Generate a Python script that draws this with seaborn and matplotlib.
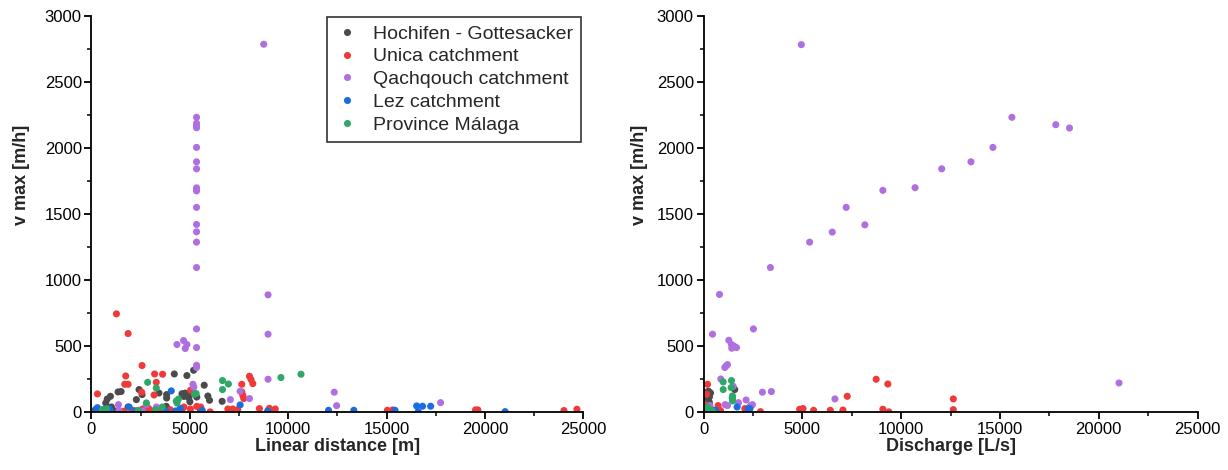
import matplotlib
matplotlib.use("Agg")
import matplotlib.pyplot as plt
import seaborn as sns
import pandas as pd
from matplotlib.ticker import MultipleLocator

groups = ["Hochifen - Gottesacker", "Unica catchment", "Qachqouch catchment",
          "Lez catchment", "Province Málaga"]
colors = ["#4b4b4b", "#f03a3a", "#b06fe0", "#1a6de0", "#2ea868"]

# ---- Left panel: linear distance [m] vs v max [m/h]
hoch_dist = [963, 1352, 1505, 2418, 2280, 2570, 4210, 4850, 5190, 5730, 3430, 3820, 3820,
             4600, 4750, 4900, 4700, 4950, 5250, 5350, 5000, 5915, 6000, 6640, 725, 795,
             1015, 1860, 3800, 200, 1200, 2900, 4400, 5500, 800]
hoch_vmax_l = [121, 154, 157, 172, 96, 134, 290, 278, 318, 205, 146, 134, 108,
               140, 145, 143, 120, 110, 140, 115, 80, 123, 91, 83, 70, 40,
               40, 40, 45, 20, 10, 15, 10, 30, 100]
unica_dist = [1268, 1860, 2570, 1740, 1690, 1860, 3210, 3615, 3295, 304, 2550, 3180, 5035,
              7640, 8030, 8110, 8200, 7640, 7690, 7740, 8535, 9040, 9340, 6930, 7180, 7435,
              6030, 5030, 5350, 5550, 1640, 2100, 2600, 2900, 3500, 4000, 4600, 4700,
              15040, 15310, 19520, 19640, 24015, 24675, 8980, 3100, 800, 4300]
unica_vmax_l = [745, 596, 354, 275, 212, 212, 290, 288, 227, 139, 152, 131, 167,
                212, 273, 248, 217, 154, 129, 104, 28, 30, 25, 25, 25, 20,
                3, 25, 45, 40, 8, 15, 25, 30, 15, 20, 18, 40,
                15, 18, 18, 18, 13, 23, 15, 10, 5, 5]
qach_dist = [5340] * 19 + [8755, 8975, 8975, 8975, 4345, 4680, 4850, 4765, 5155, 5200,
                           1370, 1400, 2790, 3300, 7555, 7060, 8030, 12340, 12460, 17745, 2590]
qach_vmax_l = [2233, 2187, 2169, 2154, 2005, 1896, 1843, 1699, 1689, 1676, 1551, 1422,
               1366, 1288, 1096, 631, 490, 356, 339,
               2786, 889, 591, 250, 513, 543, 513, 483, 212, 190,
               58, 15, 58, 40, 159, 96, 104, 152, 50, 73, 10]
lez_dist = [253, 897, 929, 1911, 4056, 5628, 4512, 4274, 7555, 3800, 2246, 8960, 12050,
            13335, 15430, 16530, 16830, 17240, 16610, 21025, 300, 600]
lez_vmax_l = [15, 28, 15, 40, 162, 15, 28, 10, 56, 5, 10, 10, 15,
              15, 15, 48, 46, 46, 5, 5, 35, 20]
mal_dist = [2855, 3295, 6660, 6960, 6660, 4310, 4420, 4350, 5240, 5320, 3600, 3260, 2790,
            560, 760, 2380, 9630, 10650]
mal_vmax_l = [227, 184, 240, 214, 172, 85, 100, 70, 137, 142, 40, 20, 71,
              20, 27, 15, 263, 288]

# ---- Right panel: discharge [L/s] vs v max [m/h]
hoch_q = [354, 288, 288, 151, 1580, 100, 200, 250, 300, 150, 50, 350, 200, 100, 250, 300]
hoch_vmax_r = [146, 116, 78, 104, 172, 150, 130, 90, 60, 40, 20, 30, 10, 70, 160, 120]
unica_q = [202, 151, 740, 858, 2090, 2340, 2880, 4865, 5035, 5570, 6414, 7055, 7272,
           8736, 9327, 9075, 9378, 12640, 12640, 100, 300, 50]
unica_vmax_r = [212, 136, 51, 13, 28, 40, 5, 23, 28, 15, 15, 17, 121,
                250, 214, 23, 3, 101, 20, 20, 10, 60]
qach_q = [4950, 5370, 6515, 7220, 8165, 9075, 10705, 12055, 13535, 14645, 15605, 17825,
          18520, 3385, 808, 455, 2525, 1280, 1415, 1530, 1667, 1430, 1077, 1146, 1212,
          875, 1500, 2156, 2980, 3434, 1096, 1212, 1768, 2475, 2390, 320, 6650, 21025]
qach_vmax_r = [2783, 1288, 1364, 1551, 1419, 1680, 1700, 1843, 1896, 2005, 2233, 2177,
               2152, 1096, 892, 591, 631, 545, 513, 502, 490, 485, 339, 351, 361,
               252, 197, 93, 152, 157, 58, 51, 73, 58, 51, 51, 101, 222]
lez_q = [1700, 2257, 2350, 606, 100, 300, 200]
lez_vmax_r = [40, 25, 28, 15, 10, 5, 30]
mal_q = [1414, 995, 995, 1400, 1465, 1465, 1465, 1450, 300, 200, 450, 100]
mal_vmax_r = [240, 230, 172, 187, 124, 104, 86, 110, 20, 40, 10, 30]


def frame(xs, ys):
    rows = []
    for g, x, y in zip(groups, xs, ys):
        rows.append(pd.DataFrame({"x": x, "y": y, "group": g}))
    return pd.concat(rows, ignore_index=True)


left_df = frame([hoch_dist, unica_dist, qach_dist, lez_dist, mal_dist],
                [hoch_vmax_l, unica_vmax_l, qach_vmax_l, lez_vmax_l, mal_vmax_l])
right_df = frame([hoch_q, unica_q, qach_q, lez_q, mal_q],
                 [hoch_vmax_r, unica_vmax_r, qach_vmax_r, lez_vmax_r, mal_vmax_r])

sns.set_style("ticks")
plt.rcParams["font.family"] = ["Liberation Sans", "DejaVu Sans"]

fig = plt.figure(figsize=(12.28, 4.70), dpi=100)
ax1 = fig.add_axes([0.0745, 0.1228, 0.4005, 0.8432])
ax2 = fig.add_axes([0.5729, 0.1228, 0.4023, 0.8432])

pal = dict(zip(groups, colors))
for ax, df, xlabel, ylx in [(ax1, left_df, "Linear distance [m]", -0.125),
                            (ax2, right_df, "Discharge [L/s]", -0.113)]:
    sns.scatterplot(data=df, x="x", y="y", hue="group", hue_order=groups,
                    palette=pal, s=26, linewidth=0, ax=ax, legend=(ax is ax1))
    ax.set_xlim(0, 25000)
    ax.set_ylim(0, 3000)
    ax.xaxis.set_major_locator(MultipleLocator(5000))
    ax.xaxis.set_minor_locator(MultipleLocator(2500))
    ax.yaxis.set_major_locator(MultipleLocator(500))
    ax.yaxis.set_minor_locator(MultipleLocator(250))
    ax.tick_params(which="major", direction="out", length=5, width=1.3, pad=2,
                   labelsize=12, color="black", labelcolor="black")
    ax.tick_params(which="minor", direction="out", length=3, width=1.1, color="black")
    for side in ["top", "right"]:
        ax.spines[side].set_visible(False)
    for side in ["left", "bottom"]:
        ax.spines[side].set_linewidth(1.3)
        ax.spines[side].set_color("black")
    ax.set_xlabel(xlabel, fontsize=13, fontweight="bold", labelpad=1)
    ax.set_ylabel("v max [m/h]", fontsize=13, fontweight="bold")
    ax.yaxis.set_label_coords(ylx, 0.6)

leg = ax1.legend(loc="upper right", bbox_to_anchor=(0.995, 0.997), frameon=True,
                 fancybox=False, edgecolor="black", fontsize=14, title=None,
                 handletextpad=0.75, borderpad=0.4, labelspacing=0.27,
                 markerscale=1.0, handlelength=1.2, borderaxespad=0)
leg.get_frame().set_linewidth(1.2)

fig.savefig("out.png", dpi=100)
